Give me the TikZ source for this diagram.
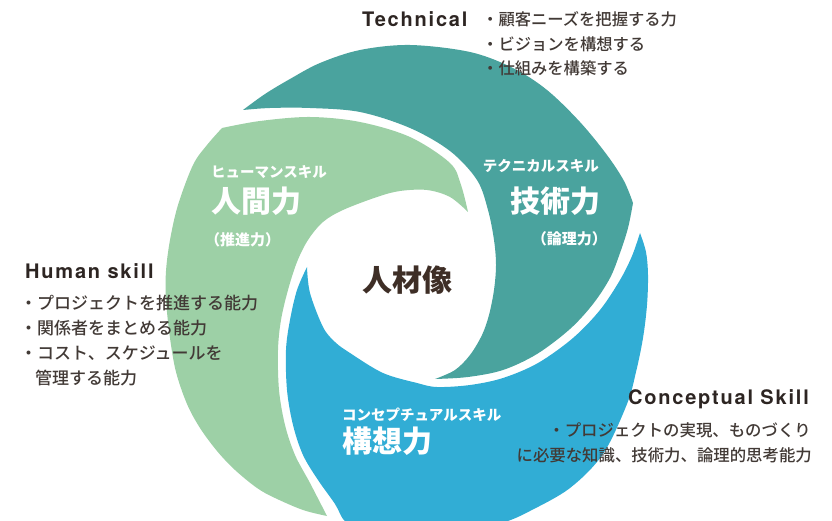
\documentclass[tikz,border=0pt]{standalone}
\usepackage{fontspec}
\setmainfont{TeX Gyre Heros}
\newfontfamily\jp{Noto Sans CJK JP}
\newfontfamily\jpm{Noto Sans CJK JP Medium}
\newfontfamily\hd[LetterSpace=9]{TeX Gyre Heros}
\definecolor{cteal}{RGB}{74,163,158}
\definecolor{cgreen}{RGB}{157,208,166}
\definecolor{cblue}{RGB}{49,173,213}
\definecolor{ctext}{RGB}{66,58,54}
\definecolor{chead}{RGB}{45,37,34}
\definecolor{ccenter}{RGB}{62,46,38}
\tikzset{
  head/.style={inner sep=0pt, text=chead, font=\hd\bfseries\fontsize{20}{24}\selectfont},
  bul/.style={inner sep=0pt, text=ctext, font=\jpm\fontsize{16.3}{20}\selectfont},
  bulh/.style={inner sep=0pt, text=ctext, font=\jpm\fontsize{17}{20}\selectfont},
  bulc/.style={inner sep=0pt, text=ctext, font=\jpm\fontsize{16.4}{20}\selectfont},
  wsmall/.style={inner sep=0pt, text=white, font=\jp\bfseries\fontsize{14.5}{16}\selectfont},
  wbig/.style={inner sep=0pt, text=white, font=\jp\bfseries\fontsize{30}{34}\selectfont},
  wpar/.style={inner sep=0pt, text=white, font=\jp\bfseries\fontsize{15}{17}\selectfont},
  blade/.style={draw=none},
  sm/.style={smooth, tension=0.55}
}
\begin{document}
\begin{tikzpicture}[x=1pt,y=-1pt]
\useasboundingbox (0,0) rectangle (832,521);
\begin{scope}
\clip (0,0) rectangle (832,521);
% teal blade
\fill[blade, cteal]
  plot[sm] coordinates {(243,110) (265,94) (290,79) (320,63) (360,50) (410,45) (470,52) (513,68) (547,90) (580,122) (607,155) (624,181) (633,203)}
  -- plot[sm] coordinates {(633,203) (628,228) (620,253) (610,278) (593,304) (570,329) (537,354) (503,370) (468,377) (435,379)}
  -- plot[sm] coordinates {(435,379) (455,370) (470,355) (482,335) (489,315) (494,290) (496,265) (494,240) (488,210) (477,180) (450,151) (410,128) (360,112) (310,108) (270,108) (243,110)}
  -- cycle;
% green blade
\fill[blade, cgreen]
  plot[sm] coordinates {(327,516) (303,510) (275,498) (257,488) (235,470) (217,451) (200,428) (187,404) (176,372) (170,338) (166,300) (166,271) (170,240) (178,205) (193,165) (207,145) (222,128)}
  -- plot[sm] coordinates {(222,128) (260,121) (310,117) (360,122) (410,137) (450,163) (461,185) (468,212)}
  -- plot[sm] coordinates {(468,212) (450,197) (427,190) (400,191) (377,197) (343,210) (323,222) (308,240) (297,262) (288,290) (281,320) (278,350) (279,390) (285,425) (295,455) (310,483) (327,516)}
  -- cycle;
% blue blade
\fill[blade, cblue]
  plot[sm] coordinates {(640,233) (646,252) (648,275) (647,305) (643,338) (636,372) (627,404) (603,454) (570,488) (530,511) (505,522) (470,531) (430,535) (395,533) (365,528) (352,526)}
  -- plot[sm] coordinates {(352,526) (343,519) (335,504) (318,480) (303,455) (293,425) (287,390) (286,350) (290,320) (297,290) (307,267)}
  -- plot[sm] coordinates {(307,267) (310,293) (323,327) (335,342) (350,353) (383,373) (417,383) (437,387) (470,385) (503,378) (538,363) (573,338) (600,310) (620,280) (632,256) (640,233)}
  -- cycle;
\end{scope}

% center
\node[inner sep=0pt, text=ccenter, font=\jp\bfseries\fontsize{30}{34}\selectfont] (center) at (407,280) {人材像};

% Technical
\node[head, anchor=base west] (thead) at (362,27) {Technical};
\node[bul, anchor=base west] (t1) at (482,26) {・顧客ニーズを把握する力};
\node[bul, anchor=base west] (t2) at (482,51) {・ビジョンを構想する};
\node[bul, anchor=base west] (t3) at (482,75) {・仕組みを構築する};

% Human skill
\node[head, anchor=base west] (hhead) at (25,279) {Human skill};
\node[bulh, anchor=base west] (h1) at (20,309.5) {・プロジェクトを推進する能力};
\node[bulh, anchor=base west] (h2) at (20,334.5) {・関係者をまとめる能力};
\node[bulh, anchor=base west] (h3) at (20,359.5) {・コスト、スケジュールを};
\node[bulh, anchor=base west] (h4) at (35,384.5) {管理する能力};

% Conceptual
\node[head, anchor=base east] (chead) at (809,404) {Conceptual Skill};
\node[bulc, anchor=base east] (c1) at (811,436) {・プロジェクトの実現、ものづくり};
\node[bulc, anchor=base east] (c2) at (812,461) {に必要な知識、技術力、論理的思考能力};

% labels in blades
\node[wsmall, anchor=base west] (gl1) at (211,178) {ヒューマンスキル};
\node[wbig, anchor=base west] (gl2) at (211,213) {人間力};
\node[wpar, anchor=base west] (gl3) at (205,246) {（推進力）};

\node[wsmall, anchor=base east] (tl1) at (599,172) {テクニカルスキル};
\node[wbig, anchor=base east] (tl2) at (601,213) {技術力};
\node[wpar, anchor=base east] (tl3) at (607,245) {（論理力）};

\node[wsmall, anchor=base west] (bl1) at (342,420.5) {コンセプチュアルスキル};
\node[wbig, anchor=base west] (bl2) at (342,452) {構想力};
\end{tikzpicture}
\end{document}
